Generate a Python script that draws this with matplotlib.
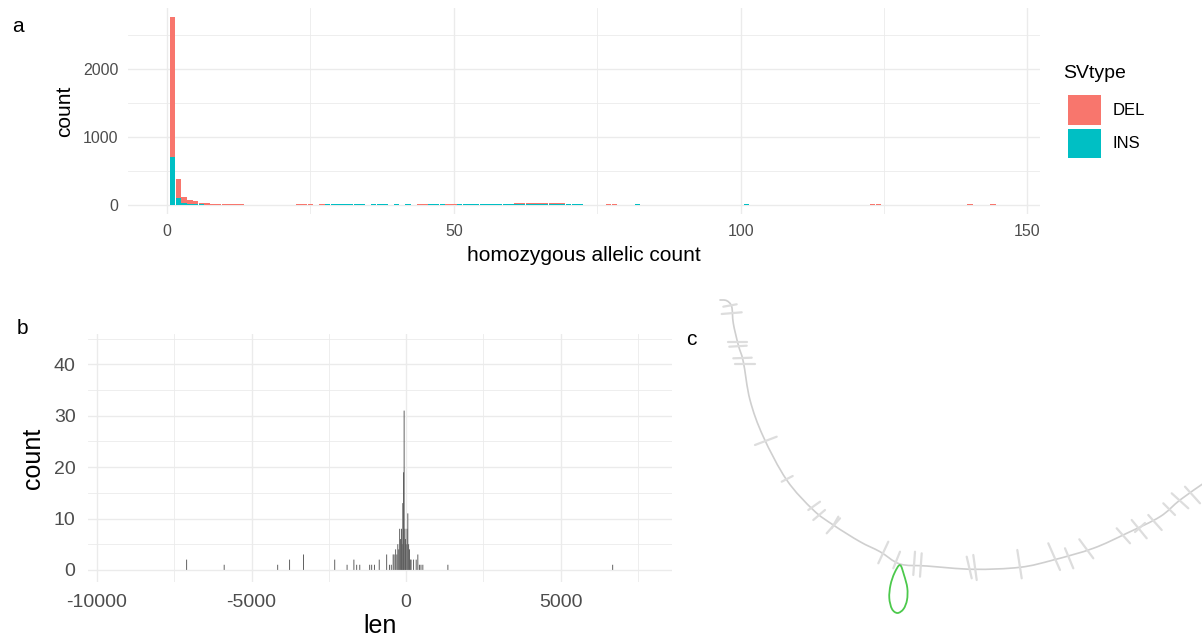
import numpy as np
import matplotlib
matplotlib.use("Agg")
import matplotlib.pyplot as plt
from matplotlib.collections import LineCollection
from matplotlib.patches import Patch, PathPatch
from matplotlib.path import Path

plt.rcParams['font.family'] = ['Liberation Sans', 'DejaVu Sans']
plt.rcParams['axes.unicode_minus'] = False

# ---- panel a: homozygous allelic count, stacked by SV type (bins of width 1)
hom_bins = list(range(1, 31))
del_n = [2056, 283, 88, 60, 43, 22, 18, 14, 10, 9, 8, 6, 6, 5, 5,
         4, 3, 3, 2, 3, 2, 2, 8, 8, 8, 3, 2, 2, 0, 2]
ins_n = [710, 100, 25, 15, 12, 8, 7, 5, 5, 4, 3, 3, 2, 2, 2,
         1, 2, 3, 2, 1, 3, 2, 2, 3, 4, 2, 6, 8, 8, 8]
del_tail_bins = [44, 45, 49, 50, 61, 62, 63, 64, 65, 66, 67, 68, 69,
                 70, 71, 72, 77, 78, 123, 124, 140, 144]
del_tail_n = [8, 8, 8, 8, 14, 14, 14, 14, 14, 14, 14, 14, 14,
              8, 8, 8, 8, 8, 8, 8, 8, 8]
ins_tail_bins = [31, 32, 33, 34, 36, 37, 38, 40, 42, 46, 47, 48,
                 51, 52, 53, 54, 55, 56, 57, 58, 59, 60, 61, 62, 63, 64,
                 65, 66, 67, 68, 69, 70, 71, 72, 82, 101]
ins_tail_n = [8, 8, 8, 8, 8, 8, 8, 8, 8, 8, 8, 8,
              8, 8, 8, 8, 8, 8, 8, 8, 8, 8, 8, 8, 8, 8,
              8, 8, 8, 8, 8, 8, 8, 8, 8, 8]

# ---- panel b: length distribution (bin centre, count)
len_mid = [-7100, -5885, -4155, -3770, -3320, -2310, -1910, -1690, -1600,
           -1500, -1180, -1115, -1025, -870, -630, -540, -480, -420, -390,
           -340, -300, -270, -240, -210, -180, -150, -130, -108, -86, -65,
           -40, -20, 0, 30, 54, 80, 108, 135, 160, 240, 325, 378, 430, 480,
           540, 1350, 6680]
len_n = [2, 1, 1, 2, 3, 2, 1, 2, 1,
         1, 1, 1, 1, 2, 3, 1, 1, 3, 3,
         4, 3, 5, 4, 8, 6, 8, 5, 13, 19, 31,
         8, 6, 5, 8, 11, 5, 4, 2, 2, 2, 2, 3, 1, 1,
         1, 1, 1]

# ---- panel c: graph layout (layout units)
path_x = [720, 726.7, 731.7, 733.3, 738.3, 743.3, 750, 763.3, 786.7, 813.3,
          833.3, 860, 880, 900, 926.7, 973.3, 1020, 1053.3, 1093.3, 1126.7,
          1160, 1180, 1204]
path_y = [300, 300.7, 306.7, 323.3, 345, 361.7, 400, 436.7, 480, 510,
          525, 541.7, 551.7, 564, 566, 569.3, 567.3, 560, 548.3, 533.3,
          516.7, 500, 483]
loop_x = [900, 904, 907.3, 907, 903.5, 897.5, 892, 889.3, 890.5, 894.5, 900]
loop_y = [565, 575, 588, 600, 609, 613, 609, 598, 585, 573, 565]
stub_x0 = [723.3, 721.7, 728.3, 729.3, 733.3, 735, 755, 781.7, 808.3, 813.3,
           826.7, 831.7, 878.3, 893.3, 913.3, 920, 966.7, 973.3, 1017.3,
           1048.3, 1065, 1079.3, 1116.7, 1131.7, 1135, 1148.3, 1163.3,
           1171.7, 1185]
stub_y0 = [306.7, 314, 341.7, 346.7, 358.3, 364, 445, 481.7, 510, 520,
           533.3, 528.3, 563.3, 568.3, 575, 576.7, 556.7, 555, 550,
           543.3, 548.3, 539.3, 528.3, 520, 532, 515, 503.3,
           493.3, 486.7]
stub_x1 = [736.7, 741.7, 746.7, 746.7, 751.7, 755, 776.7, 792.7, 820, 825,
           840, 838.3, 888.3, 900, 915, 921.7, 971.7, 976.7, 1021.7,
           1060, 1073.3, 1093.3, 1130, 1146.7, 1145, 1161.7, 1175,
           1188.3, 1200]
stub_y1 = [304.3, 312.3, 341.7, 345.7, 357.7, 364, 436.7, 476, 501.7, 510,
           518.3, 516.7, 541.7, 551.7, 551.7, 553.3, 578.3, 580, 578.3,
           570, 568.3, 558.3, 543.3, 538.3, 523, 530, 515,
           508.3, 503.3]

RED = '#F8766D'
TEAL = '#00BFC4'
GRID = '#EBEBEB'
TICKTXT = '#4D4D4D'


def minimal(ax, tick_size):
    for s in ax.spines.values():
        s.set_visible(False)
    ax.set_axisbelow(True)
    ax.grid(True, which='major', color=GRID, linewidth=1.0)
    ax.grid(True, which='minor', color=GRID, linewidth=0.6)
    ax.tick_params(which='both', length=0, labelsize=tick_size,
                   labelcolor=TICKTXT, pad=7)


def smooth_path(xs, ys, closed=False):
    # catmull-rom through the nodes, as cubic bezier segments
    p = np.column_stack([xs, ys]).astype(float)
    if closed:
        ext = np.vstack([p[-2], p, p[1]])
    else:
        ext = np.vstack([p[0], p, p[-1]])
    verts = [p[0]]
    codes = [Path.MOVETO]
    for i in range(1, len(ext) - 2):
        p0, p1, p2, p3 = ext[i - 1], ext[i], ext[i + 1], ext[i + 2]
        verts += [p1 + (p2 - p0) / 6, p2 - (p3 - p1) / 6, p2]
        codes += [Path.CURVE4] * 3
    return Path(verts, codes)


fig = plt.figure(figsize=(12.02, 6.43), dpi=100)

# panel a
ax1 = fig.add_axes([0.1065, 0.6666, 0.7587, 0.3216])
nb = 146
del_full = np.zeros(nb)
ins_full = np.zeros(nb)
del_full[np.array(hom_bins)] = del_n
ins_full[np.array(hom_bins)] = ins_n
del_full[np.array(del_tail_bins)] += del_tail_n
ins_full[np.array(ins_tail_bins)] += ins_tail_n
centers = np.arange(nb)
ax1.bar(centers, ins_full, width=0.95, color=TEAL, linewidth=0, label='INS')
ax1.bar(centers, del_full, width=0.95, bottom=ins_full, color=RED,
        linewidth=0, label='DEL')
ax1.set_xlim(-6.8, 152.2)
ax1.set_ylim(-138, 2903)
ax1.set_xticks([0, 50, 100, 150])
ax1.set_xticks([25, 75, 125], minor=True)
ax1.set_yticks([0, 1000, 2000])
ax1.set_yticks([500, 1500, 2500], minor=True)
minimal(ax1, 11.5)
ax1.set_xlabel('homozygous allelic count', fontsize=15, labelpad=5)
ax1.set_ylabel('count', fontsize=15, labelpad=6)

# legend: title as separate text so the key spacing can stay tight
fig.text(1063 / 1202, 1 - 74 / 643, 'SVtype', fontsize=14, va='center')
handles = [Patch(facecolor=RED, edgecolor='none'),
           Patch(facecolor=TEAL, edgecolor='none')]
fig.legend(handles, ['DEL', 'INS'],
           loc='upper left', bbox_to_anchor=(1063 / 1202, 1 - 90 / 643),
           frameon=False, fontsize=12, borderaxespad=0,
           handlelength=1.95, handleheight=2.35, labelspacing=0.24,
           handletextpad=0.75, borderpad=0.3)

# panel b
ax2 = fig.add_axes([0.0732, 0.0953, 0.4859, 0.3852])
ax2.bar(len_mid, len_n, width=30, color='#595959', linewidth=0, snap=False)
ax2.set_xlim(-10290, 8600)
ax2.set_ylim(-2.3, 45.9)
ax2.set_xticks([-10000, -5000, 0, 5000])
ax2.set_xticks([-7500, -2500, 2500, 7500], minor=True)
ax2.set_yticks([0, 10, 20, 30, 40])
ax2.set_yticks([5, 15, 25, 35, 45], minor=True)
minimal(ax2, 14)
ax2.tick_params(axis='both', pad=9)
ax2.set_xlabel('len', fontsize=18, labelpad=2)
ax2.set_ylabel('count', fontsize=18, labelpad=6)

# panel c
ax3 = fig.add_axes([680 / 1202, 0, 522 / 1202, 353 / 643])
ax3.set_xlim(680, 1202)
ax3.set_ylim(643, 290)
ax3.axis('off')
ax3.add_patch(PathPatch(smooth_path(path_x, path_y), facecolor='none',
                        edgecolor='#CFCFCF', linewidth=1.2,
                        capstyle='round', joinstyle='round'))
stubs = [[(a, b), (c, d)] for a, b, c, d in
         zip(stub_x0, stub_y0, stub_x1, stub_y1)]
ax3.add_collection(LineCollection(stubs, colors='#DDDDDD', linewidths=1.6,
                                  capstyle='round'))
ax3.add_patch(PathPatch(smooth_path(loop_x, loop_y, closed=True),
                        facecolor='none', edgecolor='#4CC94C', linewidth=1.3))

fig.text(12 / 1202, 1 - 27 / 643, 'a', fontsize=15, va='center')
fig.text(17 / 1202, 1 - 329 / 643, 'b', fontsize=15, va='center')
fig.text(686 / 1202, 1 - 340 / 643, 'c', fontsize=15, va='center')

fig.savefig('out.png', dpi=100)
